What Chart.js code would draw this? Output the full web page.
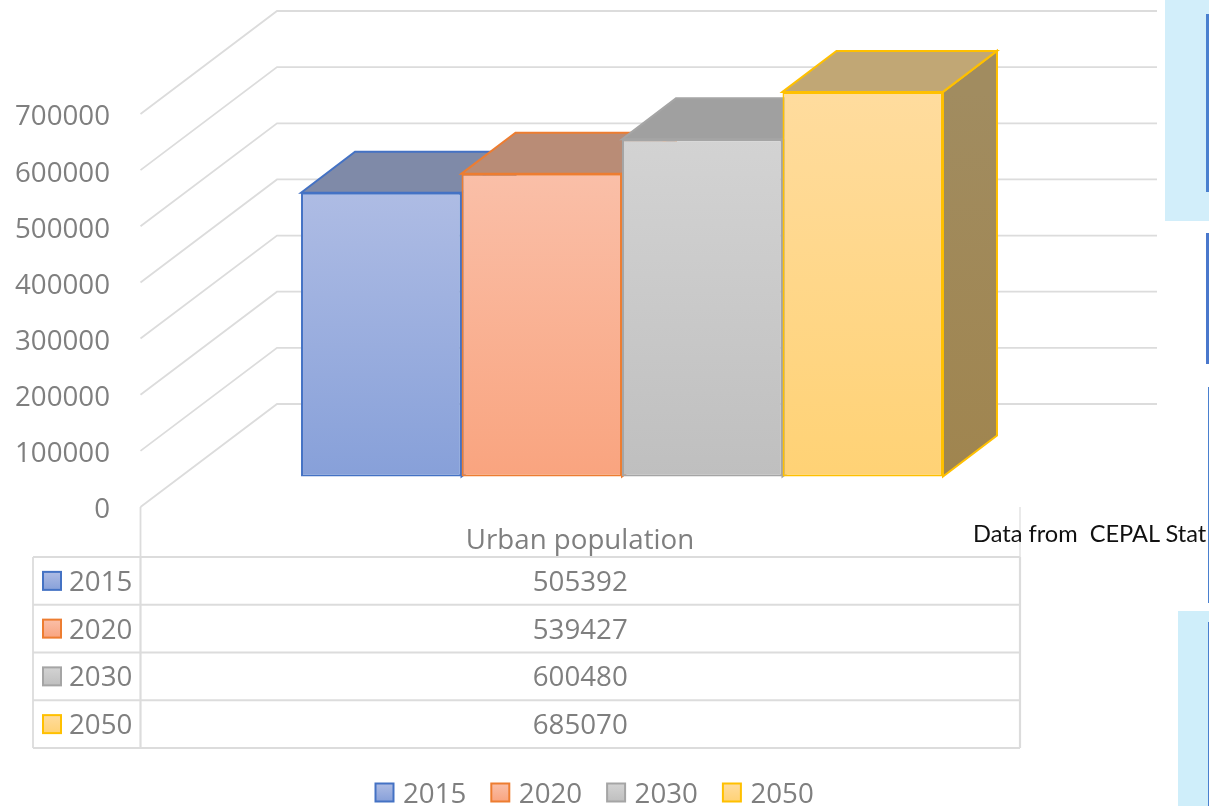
<!DOCTYPE html>
<html>
<head>
<meta charset="utf-8">
<style>
html,body{margin:0;padding:0;background:#fff;overflow:hidden;width:1209px;height:806px}
#wrap{position:relative;width:1209px;height:806px;overflow:hidden}
canvas{position:absolute;left:0;top:0}
.d{position:absolute}
#src{position:absolute;left:973px;top:519px;width:236px;overflow:hidden;white-space:pre;font:23.6px Lato,sans-serif;color:#111;line-height:28px}
</style>
<script src="https://cdn.jsdelivr.net/npm/chart.js@4"></script>
</head>
<body>
<div id="wrap">
<div class="d" style="left:1165px;top:0;width:44px;height:221px;background:#d2eefa"></div>
<div class="d" style="left:1206px;top:14px;width:3px;height:178px;background:#4a80cf"></div>
<div class="d" style="left:1206px;top:233px;width:3px;height:131px;background:#4a78cc"></div>
<div class="d" style="left:1208px;top:387px;width:1px;height:216px;background:#4a80cf"></div>
<div class="d" style="left:1178px;top:611px;width:31px;height:195px;background:#cfeefa"></div>
<div class="d" style="left:1208px;top:622px;width:1px;height:184px;background:#4a80cf"></div>
<canvas id="c" width="1209" height="806"></canvas>
<div id="src">Data from  CEPAL Stat</div>
</div>
<script>
const categories = ['Urban population'];
const years = ['2015', '2020', '2030', '2050'];
const urbanPopulation = [505392, 539427, 600480, 685070];
const yTicks = [0, 100000, 200000, 300000, 400000, 500000, 600000, 700000];

const borderColors = ['#4472C4', '#ED7D31', '#A5A5A5', '#FFC000'];
const frontTop = ['#aebce4', '#fabfa8', '#d3d3d3', '#ffdc9e'];
const frontBottom = ['#87a0d9', '#f9a47f', '#bfbfbf', '#ffd275'];
const topFace = ['#7f8aa8', '#b98c76', '#a0a0a0', '#c1a775'];
const sideTop = ['#6f7a9c', '#a87a60', '#8f8f8f', '#a18c60'];
const sideBottom = ['#5f6f9a', '#a06c50', '#7f7f7f', '#a0854f'];

const FAMILY = '"Open Sans", sans-serif';
const SIZE = 27.7;
const FONT = SIZE + 'px ' + FAMILY;
const TXT = '#7f7f7f';
const GRID = '#dcdcdc';
const wall = {dx: 136.5, dy: 103, right: 1157};      // floor depth from front edge to back wall
const barShift = {dx: 42, dy: -30.5};                // bars stand part-way into the floor
const depth = {dx: 54, dy: -41};                     // depth of each box
const table = {left: 33, split: 140.5, right: 1020, top: 557, rowH: 47.75};

function line(ctx, pts, w, col) {
  ctx.beginPath();
  pts.forEach((p, i) => i ? ctx.lineTo(p[0], p[1]) : ctx.moveTo(p[0], p[1]));
  ctx.lineWidth = w; ctx.strokeStyle = col; ctx.lineJoin = 'miter'; ctx.stroke();
}
function poly(ctx, pts, fill, stroke) {
  ctx.beginPath();
  pts.forEach((p, i) => i ? ctx.lineTo(p[0], p[1]) : ctx.moveTo(p[0], p[1]));
  ctx.closePath();
  ctx.fillStyle = fill; ctx.fill();
  ctx.lineWidth = 2; ctx.strokeStyle = stroke; ctx.lineJoin = 'miter'; ctx.stroke();
}
function key(ctx, i, x, y, s) {
  const g = ctx.createLinearGradient(0, y, 0, y + s);
  g.addColorStop(0, frontTop[i]); g.addColorStop(1, frontBottom[i]);
  ctx.fillStyle = g; ctx.fillRect(x, y, s, s);
  ctx.lineWidth = 2; ctx.strokeStyle = borderColors[i]; ctx.strokeRect(x, y, s, s);
}

const walls = {
  id: 'walls',
  beforeDatasetsDraw(chart) {
    const {ctx, scales: {y}, chartArea: a} = chart;
    ctx.save();
    yTicks.forEach(v => {
      const py = y.getPixelForValue(v);
      line(ctx, [[a.left + 0.5, py], [a.left + 0.5 + wall.dx, py - wall.dy], [wall.right, py - wall.dy]], 1.8, GRID);
    });
    line(ctx, [[a.left + 0.5, a.bottom], [a.left + 0.5, table.top]], 1.8, GRID);
    line(ctx, [[table.right, a.bottom], [table.right, table.top]], 1.2, GRID);
    ctx.restore();
    // boxes: top and side faces, then the library draws the front faces
    ctx.save();
    ctx.translate(barShift.dx, barShift.dy);
    chart.data.datasets.forEach((ds, i) => {
      const el = chart.getDatasetMeta(i).data[0];
      const l = el.x - el.width / 2, r = el.x + el.width / 2, t = el.y, b = el.base;
      const g = ctx.createLinearGradient(0, t, 0, b);
      g.addColorStop(0, sideTop[i]); g.addColorStop(1, sideBottom[i]);
      poly(ctx, [[r, t], [r + depth.dx, t + depth.dy], [r + depth.dx, b + depth.dy], [r, b]], g, borderColors[i]);
      poly(ctx, [[l, t], [l + depth.dx, t + depth.dy], [r + depth.dx, t + depth.dy], [r, t]], topFace[i], borderColors[i]);
    });
    ctx.restore();
    ctx.save();
    ctx.translate(barShift.dx, barShift.dy);
  },
  afterDatasetsDraw(chart) {
    chart.ctx.restore();
  },
  afterDraw(chart) {
    const {ctx} = chart;
    ctx.save();
    const rows = years.length, bottom = table.top + rows * table.rowH;
    for (let r = 0; r <= rows; r++) {
      const yy = table.top + r * table.rowH;
      line(ctx, [[table.left, yy], [table.right, yy]], 1.8, GRID);
    }
    line(ctx, [[table.left, table.top], [table.left, bottom]], 1.8, GRID);
    line(ctx, [[table.split, table.top], [table.split, bottom]], 2.2, GRID);
    line(ctx, [[table.right, table.top], [table.right, bottom]], 2.2, GRID);
    ctx.font = FONT; ctx.fillStyle = TXT; ctx.textBaseline = 'middle';
    years.forEach((yr, i) => {
      const cy = table.top + (i + 0.5) * table.rowH;
      key(ctx, i, 43, cy - 9, 18);
      ctx.fillStyle = TXT; ctx.textAlign = 'left';
      ctx.fillText(yr, 69, cy + 2);
      ctx.textAlign = 'center';
      ctx.fillText(String(urbanPopulation[i]), (table.split + table.right) / 2, cy + 2);
    });
    // legend row
    years.forEach((yr, i) => {
      const x = 375.5 + i * 115.8;
      key(ctx, i, x, 783.5, 18);
      ctx.fillStyle = TXT; ctx.textAlign = 'left';
      ctx.fillText(yr, x + 27.5, 795);
    });
    ctx.restore();
  }
};

new Chart(document.getElementById('c'), {
  type: 'bar',
  data: {
    labels: categories,
    datasets: years.map((yr, i) => ({
      label: yr,
      data: [urbanPopulation[i]],
      borderColor: borderColors[i],
      borderWidth: 2,
      borderSkipped: false,
      clip: false,
      backgroundColor(c) {
        const {chart} = c;
        if (!chart.chartArea) return frontTop[i];
        const y = chart.scales.y;
        const g = chart.ctx.createLinearGradient(0, y.getPixelForValue(urbanPopulation[i]), 0, y.getPixelForValue(0));
        g.addColorStop(0, frontTop[i]); g.addColorStop(1, frontBottom[i]);
        return g;
      }
    }))
  },
  options: {
    responsive: false,
    animation: false,
    devicePixelRatio: 1,
    layout: {padding: {left: 0, right: 189, top: 114, bottom: 0}},
    datasets: {bar: {categoryPercentage: 0.7295, barPercentage: 1}},
    plugins: {legend: {display: false}, tooltip: {enabled: false}, title: {display: false}},
    scales: {
      x: {
        grid: {display: false}, border: {display: false},
        ticks: {color: TXT, font: {family: FAMILY, size: SIZE}, padding: 9},
        afterFit(s) { s.height = 299; }
      },
      y: {
        min: 0, max: 700000,
        grid: {display: false}, border: {display: false},
        afterBuildTicks(s) { s.ticks = yTicks.map(v => ({value: v})); },
        ticks: {color: TXT, font: {family: FAMILY, size: SIZE}, padding: 22, labelOffset: 3.5, callback: v => String(v)},
        afterFit(s) { s.width = 140; }
      }
    }
  },
  plugins: [walls]
});
</script>
</body>
</html>
